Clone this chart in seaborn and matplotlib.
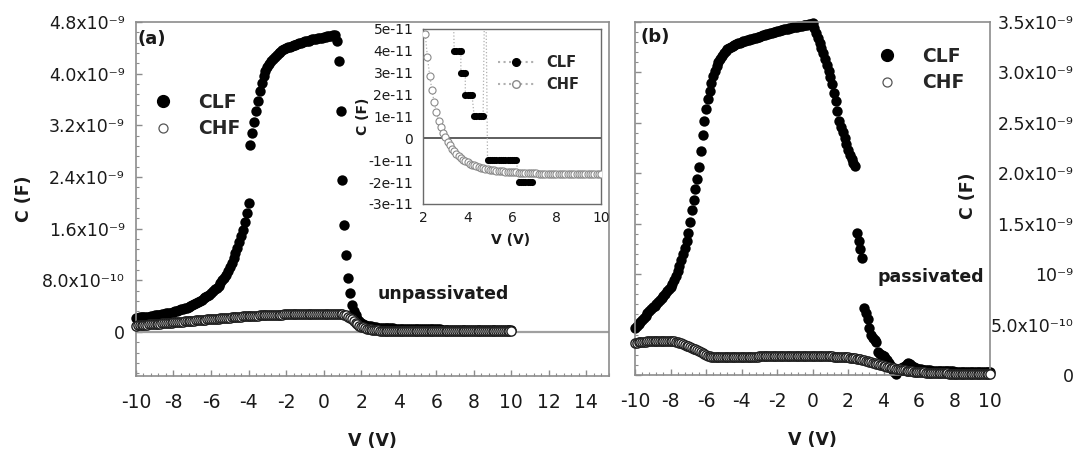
import numpy as np
import pandas as pd
import matplotlib
matplotlib.use('Agg')
import matplotlib.pyplot as plt
import seaborn as sns
from matplotlib.lines import Line2D
from matplotlib.ticker import MultipleLocator

sns.set_theme(style='white')
plt.rcParams['font.family'] = ['DejaVu Sans']
plt.rcParams['axes.unicode_minus'] = False

# voltage sweeps (V)
V_SWEEP = np.round(np.arange(-10, 10.05, 0.1), 1)  # 201 points, 0.1 V step
V_INSET = np.round(np.arange(2.1, 10.05, 0.1), 1)  # 80 points

# (a) unpassivated, capacitance in units of 1e-9 F
clf_a = [
    0.22, 0.22, 0.23, 0.23, 0.23, 0.24, 0.24, 0.24, 0.25, 0.25,
    0.26, 0.26, 0.27, 0.27, 0.28, 0.28, 0.29, 0.29, 0.30, 0.30,
    0.31, 0.32, 0.33, 0.34, 0.35, 0.36, 0.37, 0.38, 0.39, 0.40,
    0.42, 0.43, 0.45, 0.46, 0.48, 0.50, 0.52, 0.54, 0.56, 0.58,
    0.60, 0.63, 0.66, 0.69, 0.72, 0.76, 0.80, 0.84, 0.89, 0.94,
    1.00, 1.07, 1.14, 1.22, 1.30, 1.39, 1.48, 1.58, 1.70, 1.84,
    2.00, 2.90, 3.08, 3.25, 3.42, 3.58, 3.73, 3.86, 3.96, 4.04,
    4.10, 4.15, 4.19, 4.23, 4.26, 4.29, 4.32, 4.34, 4.36, 4.38,
    4.40, 4.41, 4.42, 4.43, 4.44, 4.45, 4.46, 4.47, 4.48, 4.49,
    4.50, 4.51, 4.51, 4.52, 4.53, 4.53, 4.54, 4.55, 4.55, 4.56,
    4.57, 4.57, 4.58, 4.59, 4.59, 4.60, 4.60, 4.50, 4.19, 3.43,
    2.35, 1.66, 1.19, 0.84, 0.60, 0.42, 0.33, 0.26, 0.21, 0.17,
    0.14, 0.12, 0.11, 0.10, 0.095, 0.09, 0.085, 0.08, 0.075, 0.07,
    0.07, 0.065, 0.065, 0.06, 0.06, 0.06, 0.058, 0.056, 0.055, 0.054,
    0.053, 0.052, 0.051, 0.05, 0.05, 0.049, 0.048, 0.047, 0.046, 0.046,
    0.045, 0.045, 0.044, 0.044, 0.043, 0.043, 0.042, 0.042, 0.041, 0.041,
    0.04, 0.04, 0.04, 0.039, 0.039, 0.038, 0.038, 0.038, 0.037, 0.037,
    0.036, 0.036, 0.036, 0.035, 0.035, 0.035, 0.034, 0.034, 0.034, 0.033,
    0.033, 0.033, 0.032, 0.032, 0.032, 0.031, 0.031, 0.031, 0.030, 0.030,
    0.030, 0.030, 0.029, 0.029, 0.029, 0.028, 0.028, 0.028, 0.027, 0.027,
    0.027,
]
chf_a = [
    0.100, 0.102, 0.105, 0.108, 0.110, 0.112, 0.115, 0.118, 0.120, 0.122,
    0.125, 0.128, 0.130, 0.132, 0.135, 0.138, 0.140, 0.142, 0.145, 0.148,
    0.150, 0.152, 0.155, 0.158, 0.160, 0.162, 0.165, 0.168, 0.170, 0.172,
    0.175, 0.178, 0.180, 0.182, 0.185, 0.188, 0.190, 0.192, 0.195, 0.198,
    0.200, 0.202, 0.205, 0.208, 0.210, 0.212, 0.215, 0.218, 0.220, 0.222,
    0.225, 0.228, 0.230, 0.232, 0.235, 0.238, 0.240, 0.242, 0.245, 0.248,
    0.250, 0.251, 0.252, 0.254, 0.255, 0.256, 0.258, 0.259, 0.260, 0.261,
    0.262, 0.264, 0.265, 0.266, 0.267, 0.268, 0.270, 0.271, 0.272, 0.273,
    0.274, 0.274, 0.275, 0.275, 0.276, 0.276, 0.277, 0.277, 0.278, 0.278,
    0.279, 0.279, 0.280, 0.280, 0.280, 0.280, 0.280, 0.280, 0.280, 0.280,
    0.280, 0.280, 0.280, 0.280, 0.280, 0.280, 0.280, 0.280, 0.279, 0.278,
    0.275, 0.270, 0.260, 0.240, 0.220, 0.195, 0.170, 0.145, 0.120, 0.100,
    0.085, 0.072, 0.060, 0.052, 0.045, 0.040, 0.035, 0.031, 0.028, 0.025,
    0.022, 0.020, 0.018, 0.016, 0.015, 0.014, 0.013, 0.013, 0.012, 0.012,
    0.011, 0.011, 0.011, 0.010, 0.010, 0.010, 0.010, 0.010, 0.010, 0.010,
    0.010, 0.010, 0.010, 0.010, 0.010, 0.010, 0.010, 0.010, 0.010, 0.010,
    0.010, 0.010, 0.010, 0.010, 0.010, 0.010, 0.010, 0.010, 0.010, 0.010,
    0.010, 0.010, 0.010, 0.010, 0.010, 0.010, 0.010, 0.010, 0.010, 0.010,
    0.010, 0.010, 0.010, 0.010, 0.010, 0.010, 0.010, 0.010, 0.010, 0.010,
    0.010, 0.010, 0.010, 0.010, 0.010, 0.010, 0.010, 0.010, 0.010, 0.010,
    0.010,
]

# (b) passivated, capacitance in units of 1e-9 F
clf_b = [
    0.47, 0.49, 0.51, 0.53, 0.55, 0.57, 0.59, 0.61, 0.63, 0.65,
    0.67, 0.68, 0.70, 0.72, 0.74, 0.76, 0.78, 0.80, 0.83, 0.85,
    0.87, 0.90, 0.94, 0.98, 1.03, 1.08, 1.14, 1.20, 1.26, 1.33,
    1.41, 1.52, 1.64, 1.74, 1.84, 1.94, 2.06, 2.22, 2.38, 2.52,
    2.64, 2.74, 2.82, 2.90, 2.96, 3.01, 3.06, 3.10, 3.13, 3.16,
    3.19, 3.21, 3.23, 3.24, 3.25, 3.26, 3.27, 3.28, 3.29, 3.29,
    3.30, 3.31, 3.31, 3.32, 3.32, 3.33, 3.33, 3.34, 3.34, 3.35,
    3.35, 3.36, 3.37, 3.37, 3.38, 3.38, 3.39, 3.39, 3.40, 3.40,
    3.41, 3.41, 3.42, 3.42, 3.43, 3.43, 3.43, 3.44, 3.44, 3.45,
    3.45, 3.45, 3.46, 3.46, 3.46, 3.47, 3.47, 3.47, 3.48, 3.48,
    3.49, 3.44, 3.39, 3.34, 3.29, 3.24, 3.19, 3.13, 3.07, 3.01,
    2.95, 2.89, 2.80, 2.72, 2.62, 2.52, 2.46, 2.41, 2.35, 2.29,
    2.23, 2.18, 2.14, 2.10, 2.07, 1.41, 1.33, 1.25, 1.16, 0.66,
    0.61, 0.56, 0.47, 0.40, 0.37, 0.35, 0.33, 0.23, 0.21, 0.20,
    0.19, 0.17, 0.15, 0.12, 0.09, 0.06, 0.03, 0.01, 0.04, 0.06,
    0.07, 0.08, 0.09, 0.11, 0.12, 0.11, 0.09, 0.08, 0.07, 0.06,
    0.06, 0.055, 0.05, 0.05, 0.048, 0.046, 0.045, 0.044, 0.043, 0.042,
    0.041, 0.04, 0.04, 0.039, 0.038, 0.037, 0.037, 0.036, 0.035, 0.035,
    0.034, 0.034, 0.033, 0.033, 0.032, 0.032, 0.031, 0.031, 0.03, 0.03,
    0.03, 0.029, 0.029, 0.028, 0.028, 0.027, 0.027, 0.026, 0.026, 0.025,
    0.025,
]
chf_b = [
    0.320, 0.322, 0.325, 0.328, 0.330, 0.330, 0.332, 0.333, 0.335, 0.335,
    0.337, 0.338, 0.340, 0.340, 0.340, 0.340, 0.340, 0.340, 0.340, 0.340,
    0.340, 0.338, 0.335, 0.330, 0.325, 0.320, 0.315, 0.308, 0.300, 0.292,
    0.285, 0.278, 0.270, 0.262, 0.255, 0.245, 0.235, 0.225, 0.215, 0.205,
    0.195, 0.190, 0.185, 0.182, 0.180, 0.178, 0.176, 0.175, 0.175, 0.175,
    0.175, 0.175, 0.175, 0.175, 0.175, 0.175, 0.175, 0.175, 0.175, 0.175,
    0.175, 0.176, 0.178, 0.179, 0.180, 0.180, 0.180, 0.181, 0.182, 0.183,
    0.184, 0.184, 0.185, 0.185, 0.186, 0.186, 0.187, 0.187, 0.188, 0.188,
    0.188, 0.189, 0.189, 0.190, 0.190, 0.190, 0.190, 0.190, 0.190, 0.190,
    0.190, 0.190, 0.190, 0.190, 0.190, 0.190, 0.190, 0.190, 0.190, 0.190,
    0.190, 0.190, 0.190, 0.190, 0.190, 0.190, 0.189, 0.188, 0.187, 0.186,
    0.185, 0.184, 0.183, 0.182, 0.181, 0.180, 0.179, 0.178, 0.177, 0.176,
    0.174, 0.172, 0.170, 0.168, 0.165, 0.162, 0.158, 0.154, 0.150, 0.145,
    0.140, 0.135, 0.130, 0.125, 0.120, 0.115, 0.110, 0.105, 0.100, 0.095,
    0.090, 0.085, 0.080, 0.076, 0.072, 0.068, 0.065, 0.062, 0.058, 0.055,
    0.052, 0.049, 0.046, 0.043, 0.040, 0.038, 0.036, 0.034, 0.032, 0.030,
    0.029, 0.028, 0.026, 0.025, 0.024, 0.022, 0.021, 0.020, 0.019, 0.018,
    0.018, 0.017, 0.017, 0.016, 0.016, 0.015, 0.015, 0.014, 0.014, 0.014,
    0.013, 0.013, 0.012, 0.012, 0.012, 0.011, 0.011, 0.011, 0.010, 0.010,
    0.010, 0.010, 0.010, 0.010, 0.010, 0.010, 0.010, 0.010, 0.010, 0.010,
    0.010,
]

# inset of (a), capacitance in units of 1e-11 F (9 = off scale)
inset_clf_v = [3.3, 3.4, 3.5, 3.6, 3.7, 3.7, 3.8, 3.9, 3.9, 4.0, 4.1, 4.2,
               4.3, 4.4, 4.5, 4.6, 4.7, 4.8,
               4.9, 5.0, 5.1, 5.2, 5.3, 5.4, 5.5, 5.6, 5.7, 5.8, 5.9, 6.0, 6.1, 6.2,
               6.3, 6.4, 6.5, 6.6, 6.7, 6.8, 6.9]
inset_clf_c = [9, 4, 4, 4, 4, 3, 3, 3, 2, 2, 2, 2,
               1, 1, 1, 1, 1, 9,
               -1, -1, -1, -1, -1, -1, -1, -1, -1, -1, -1, -1, -1, -1,
               -2, -2, -2, -2, -2, -2, -2]
inset_chf = [
    4.75, 3.70, 2.85, 2.20, 1.65, 1.20, 0.80, 0.50, 0.25, 0.05,
    -0.15, -0.32, -0.47, -0.60, -0.72, -0.82, -0.90, -0.98, -1.04, -1.10,
    -1.15, -1.20, -1.24, -1.28, -1.31, -1.34, -1.37, -1.39, -1.41, -1.43,
    -1.45, -1.46, -1.48, -1.49, -1.50, -1.51, -1.52, -1.53, -1.54, -1.55,
    -1.56, -1.56, -1.57, -1.57, -1.58, -1.58, -1.59, -1.59, -1.60, -1.60,
    -1.60, -1.61, -1.61, -1.61, -1.61, -1.62, -1.62, -1.62, -1.62, -1.62,
    -1.62, -1.62, -1.62, -1.62, -1.62, -1.62, -1.62, -1.62, -1.62, -1.62,
    -1.62, -1.62, -1.62, -1.62, -1.62, -1.62, -1.62, -1.62, -1.62, -1.62,
]

# tick labels
a_yticks = [0, 0.8, 1.6, 2.4, 3.2, 4.0, 4.8]
a_ylabels = ['0', '8.0x10⁻¹⁰', '1.6x10⁻⁹', '2.4x10⁻⁹', '3.2x10⁻⁹', '4.0x10⁻⁹', '4.8x10⁻⁹']
b_yticks = [0, 0.5, 1.0, 1.5, 2.0, 2.5, 3.0, 3.5]
b_ylabels = ['0', '5.0x10⁻¹⁰', '10⁻⁹', '1.5x10⁻⁹', '2.0x10⁻⁹', '2.5x10⁻⁹', '3.0x10⁻⁹', '3.5x10⁻⁹']
inset_yticks = [-3, -2, -1, 0, 1, 2, 3, 4, 5]
inset_ylabels = ['-3e-11', '-2e-11', '-1e-11', '0', '1e-11', '2e-11', '3e-11', '4e-11', '5e-11']

df_a_clf = pd.DataFrame({'V': V_SWEEP, 'C': clf_a})
df_a_chf = pd.DataFrame({'V': V_SWEEP, 'C': chf_a})
df_b_clf = pd.DataFrame({'V': V_SWEEP, 'C': clf_b})
df_b_chf = pd.DataFrame({'V': V_SWEEP, 'C': chf_b})
df_in_clf = pd.DataFrame({'V': inset_clf_v, 'C': inset_clf_c})
df_in_chf = pd.DataFrame({'V': V_INSET, 'C': inset_chf})

SPINE = '#8c8c8c'
TXT = '#1a1a1a'
CHF_EDGE = '#1e1e1e'

fig = plt.figure(figsize=(10.85, 4.54), dpi=100)
ax_a = fig.add_axes([0.1253, 0.1718, 0.4359, 0.7797])
ax_b = fig.add_axes([0.5853, 0.174, 0.3272, 0.7775])
ax_in = fig.add_axes([0.3899, 0.5507, 0.164, 0.3855])


def style_main(ax):
    for s in ax.spines.values():
        s.set_color(SPINE)
        s.set_linewidth(1.2)
    ax.tick_params(which='both', direction='in', color=SPINE, bottom=True, left=True,
                   top=False, right=False, labelcolor=TXT)
    ax.tick_params(axis='x', labelsize=13.5)
    ax.tick_params(axis='y', labelsize=12.5)
    ax.tick_params(which='major', length=4, width=1)
    ax.tick_params(which='minor', length=2.2, width=0.8)
    ax.tick_params(axis='x', which='major', pad=12)
    ax.xaxis.set_minor_locator(MultipleLocator(0.4))


clf_handle = Line2D([0], [0], marker='o', ls='none', mfc='black', mec='black', ms=8.5)
chf_handle = Line2D([0], [0], marker='o', ls='none', mfc='white', mec='#555555', ms=6.5, mew=0.9)
leg_kw = dict(frameon=False, prop={'weight': 'bold', 'size': 13.5}, handlelength=1.0,
              handletextpad=1.4, labelspacing=0.4, borderpad=0, borderaxespad=0)

# ---- (a) unpassivated
ax_a.axhline(0, color='#a0a0a0', lw=1.6, zorder=1)
sns.scatterplot(data=df_a_clf, x='V', y='C', ax=ax_a, color='black', s=56,
                linewidth=0, clip_on=False, zorder=2)
sns.scatterplot(data=df_a_chf, x='V', y='C', ax=ax_a, color='white', edgecolor=CHF_EDGE,
                s=44, linewidth=1.0, clip_on=False, zorder=3)
ax_a.set_xlim(-10, 15.2)
ax_a.set_ylim(-0.68, 4.8)
ax_a.set_xticks(range(-10, 15, 2))
ax_a.set_yticks(a_yticks)
ax_a.set_yticklabels(a_ylabels)
ax_a.yaxis.set_minor_locator(MultipleLocator(0.16))
style_main(ax_a)
ax_a.tick_params(axis='y', which='major', pad=8)
ax_a.set_xlabel('V (V)', fontsize=12.5, fontweight='bold', color=TXT)
ax_a.set_ylabel('C (F)', fontsize=12.5, fontweight='bold', color=TXT)
ax_a.xaxis.set_label_coords(0.5, -0.158)
ax_a.yaxis.set_label_coords(-0.218, 0.5)
ax_a.text(0.004, 0.977, '(a)', transform=ax_a.transAxes, fontsize=13, fontweight='bold',
          va='top', ha='left', color=TXT)
ax_a.text(0.512, 0.232, 'unpassivated', transform=ax_a.transAxes, fontsize=12.5,
          fontweight='bold', va='center', ha='left', color=TXT)
ax_a.legend([clf_handle, chf_handle], ['CLF', 'CHF'], loc='upper left',
            bbox_to_anchor=(0.037, 0.80), **leg_kw)

# ---- (b) passivated
sns.scatterplot(data=df_b_clf, x='V', y='C', ax=ax_b, color='black', s=56,
                linewidth=0, clip_on=False, zorder=2)
sns.scatterplot(data=df_b_chf, x='V', y='C', ax=ax_b, color='white', edgecolor=CHF_EDGE,
                s=44, linewidth=1.0, clip_on=False, zorder=3)
ax_b.set_xlim(-10, 10)
ax_b.set_ylim(0, 3.5)
ax_b.set_xticks(range(-10, 11, 2))
ax_b.set_yticks(b_yticks)
ax_b.set_yticklabels(b_ylabels)
ax_b.yaxis.set_minor_locator(MultipleLocator(0.1))
style_main(ax_b)
ax_b.tick_params(axis='y', labelleft=False, labelright=True, pad=60)
for tick in ax_b.yaxis.get_major_ticks():
    tick.label2.set_horizontalalignment('right')
ax_b.set_xlabel('V (V)', fontsize=12.5, fontweight='bold', color=TXT)
ax_b.set_ylabel('C (F)', fontsize=12.5, fontweight='bold', color=TXT)
ax_b.xaxis.set_label_coords(0.5, -0.159)
ax_b.yaxis.set_label_coords(0.963, 0.507)
ax_b.text(0.014, 0.983, '(b)', transform=ax_b.transAxes, fontsize=13, fontweight='bold',
          va='top', ha='left', color=TXT)
ax_b.text(0.682, 0.278, 'passivated', transform=ax_b.transAxes, fontsize=12.5,
          fontweight='bold', va='center', ha='left', color=TXT)
ax_b.legend([clf_handle, chf_handle], ['CLF', 'CHF'], loc='upper left',
            bbox_to_anchor=(0.683, 0.93), **leg_kw)

# ---- inset of (a)
ax_in.axhline(0, color='#333333', lw=1.1, zorder=1)
sns.lineplot(data=df_in_chf, x='V', y='C', ax=ax_in, sort=False, estimator=None,
             color='#b0b0b0', linestyle=':', lw=0.9, zorder=2)
sns.lineplot(data=df_in_clf, x='V', y='C', ax=ax_in, sort=False, estimator=None,
             color='#b0b0b0', linestyle=':', lw=0.9, zorder=2)
sns.scatterplot(data=df_in_chf, x='V', y='C', ax=ax_in, color='white', edgecolor='#8a8a8a',
                s=26, linewidth=0.8, zorder=3)
sns.scatterplot(data=df_in_clf, x='V', y='C', ax=ax_in, color='black', s=26,
                linewidth=0, zorder=4)
ax_in.set_xlim(2, 10)
ax_in.set_ylim(-3, 5)
ax_in.set_xticks([2, 4, 6, 8, 10])
ax_in.set_yticks(inset_yticks)
ax_in.set_yticklabels(inset_ylabels)
for s in ax_in.spines.values():
    s.set_color('#6a6a6a')
    s.set_linewidth(1.0)
ax_in.tick_params(length=0, labelsize=10, labelcolor=TXT)
ax_in.tick_params(axis='y', pad=7)
ax_in.tick_params(axis='x', pad=5)
ax_in.set_xlabel('V (V)', fontsize=10, fontweight='bold', color=TXT)
ax_in.set_ylabel('C (F)', fontsize=10, fontweight='bold', color=TXT)
ax_in.xaxis.set_label_coords(0.49, -0.165)
ax_in.yaxis.set_label_coords(-0.30, 0.5)
in_clf = Line2D([0], [0], marker='o', ls=':', color='#b0b0b0', mfc='black', mec='black', ms=5.5)
in_chf = Line2D([0], [0], marker='o', ls=':', color='#b0b0b0', mfc='white', mec='#8a8a8a', ms=5.5)
ax_in.legend([in_clf, in_chf], ['CLF', 'CHF'], loc='upper left', bbox_to_anchor=(0.421, 0.851),
             frameon=False, prop={'weight': 'bold', 'size': 10.5}, handlelength=2.5,
             handletextpad=0.8, labelspacing=0.5, borderpad=0, borderaxespad=0)

fig.savefig('out.png', dpi=100, facecolor='white')
